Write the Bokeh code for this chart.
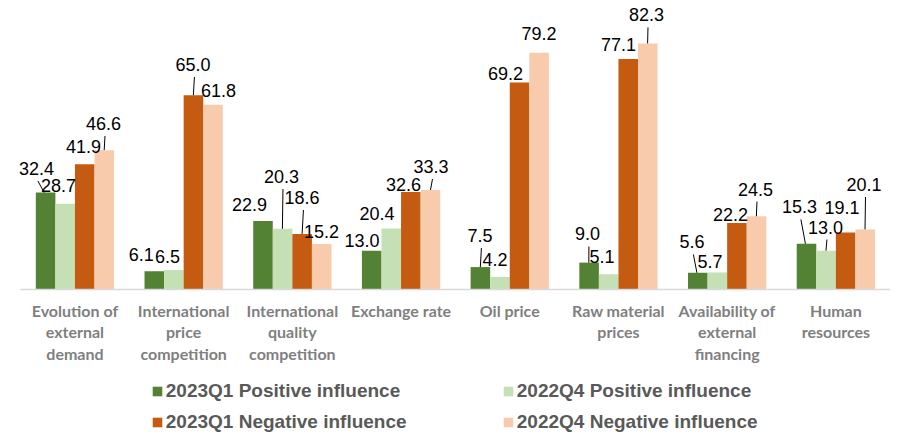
from bokeh.plotting import figure
from bokeh.models import Range1d, Legend, LegendItem, ColumnDataSource
from bokeh.embed import file_html
from bokeh.resources import INLINE
from bokeh.core.properties import value

# ---------------- data ----------------
categories = [
    "Evolution of\nexternal\ndemand",
    "International\nprice\ncompetition",
    "International\nquality\ncompetition",
    "Exchange rate",
    "Oil price",
    "Raw material\nprices",
    "Availability of\nexternal\nfinancing",
    "Human\nresources",
]
series_names = [
    "2023Q1 Positive influence",
    "2022Q4 Positive influence",
    "2023Q1 Negative influence",
    "2022Q4 Negative influence",
]
pos_2023q1 = [32.4, 6.1, 22.9, 13.0, 7.5, 9.0, 5.6, 15.3]
pos_2022q4 = [28.7, 6.5, 20.3, 20.4, 4.2, 5.1, 5.7, 13.0]
neg_2023q1 = [41.9, 65.0, 18.6, 32.6, 69.2, 77.1, 22.2, 19.1]
neg_2022q4 = [46.6, 61.8, 15.2, 33.3, 79.2, 82.3, 24.5, 20.1]
series_values = [pos_2023q1, pos_2022q4, neg_2023q1, neg_2022q4]

# ---------------- styles ----------------
colors = ["#548235", "#C5E0B4", "#C55A11", "#F8CBAD"]
bar_offsets = [-0.27, -0.09, 0.09, 0.27]
bar_width = 0.18

# label placement (screen px): dx = label centre - bar centre, dy = bar top - label centre
label_dx = [
    [-9.2, -13.0, -13.6, -9.8, -0.5, -1.7, -5.9, -7.1],
    [-6.7, -6.4, -1.1, -14.3, -5.0, -6.7, -7.4, -0.6],
    [-1.3, -0.5, -0.2, -7.4, -14.1, -9.8, -6.5, -3.7],
    [-0.8, 5.5, -0.2, 0.6, 0.0, -1.3, -1.0, -1.2],
]
label_dy = [
    [24.1, 16.8, 16.5, 10.1, 31.6, 28.6, 30.8, 36.8],
    [18.2, 13.6, 52.3, 15.5, 17.9, 17.3, 10.5, 23.6],
    [17.7, 30.6, 36.4, 7.5, 8.6, 14.5, 9.1, 24.4],
    [26.7, 14.2, 12.6, 23.4, 18.7, 28.5, 27.2, 44.9],
]
leader = [
    [1, 0, 0, 0, 1, 1, 1, 1],
    [0, 0, 1, 0, 0, 0, 0, 1],
    [0, 1, 1, 0, 0, 0, 0, 0],
    [1, 0, 0, 1, 0, 1, 1, 1],
]

# ---------------- geometry ----------------
W, H = 895, 436
CAT_PX = 108.7          # pixels per category
LEFT_PX = 20.1          # left edge of first category (figure px)
BASE_PX = 289.0         # baseline (figure px from top)
PX_PER_UNIT = 2.99

x_start = -LEFT_PX / CAT_PX
x_end = (W - LEFT_PX) / CAT_PX
y_end = BASE_PX / PX_PER_UNIT
y_start = -(H - BASE_PX) / PX_PER_UNIT

p = figure(width=W, height=H, title=None, toolbar_location=None,
           output_backend="svg", x_axis_location=None, y_axis_location=None,
           x_range=Range1d(x_start, x_end), y_range=Range1d(y_start, y_end),
           min_border=0, outline_line_color=None, tools="")
p.background_fill_color = "white"
p.border_fill_color = "white"
p.xgrid.grid_line_color = None
p.ygrid.grid_line_color = None

renderers = []
lab_x, lab_y, lab_t = [], [], []
ld_x0, ld_y0, ld_x1, ld_y1 = [], [], [], []
n = len(categories)
for s, vals in enumerate(series_values):
    xs = [i + 0.5 + bar_offsets[s] for i in range(n)]
    src = ColumnDataSource(dict(x=xs, top=vals))
    r = p.vbar(x="x", top="top", bottom=0, width=bar_width, source=src,
               fill_color=colors[s], line_color=None)
    renderers.append(r)
    for i, v in enumerate(vals):
        lx = xs[i] + label_dx[s][i] / CAT_PX
        ly = v + label_dy[s][i] / PX_PER_UNIT
        lab_x.append(lx)
        lab_y.append(ly)
        lab_t.append(f"{v:.1f}")
        if leader[s][i]:
            ld_x0.append(lx + 1.5 / CAT_PX)
            ld_y0.append(ly - 12.5 / PX_PER_UNIT)
            ld_x1.append(xs[i] + 0.15 * label_dx[s][i] / CAT_PX)
            ld_y1.append(v)

# baseline
p.segment(x0=[0], y0=[0], x1=[n], y1=[0], line_color="#D9D9D9", line_width=1.5)

# leader lines
p.segment(x0=ld_x0, y0=ld_y0, x1=ld_x1, y1=ld_y1, line_color="black", line_width=1)

# data labels
p.text(x=lab_x, y=lab_y, text=lab_t, text_align="center", text_baseline="middle",
       text_font=value("Liberation Sans"), text_font_size="18px", text_color="#000000")

# category labels
cat_y = -(300 - BASE_PX) / PX_PER_UNIT
p.text(x=[i + 0.5 for i in range(n)], y=[cat_y] * n, text=categories,
       text_align="center", text_baseline="top", text_line_height=1.15,
       text_font=value("Lato"), text_font_style="bold", text_font_size="16px",
       text_color="#7F7F7F")

# legends (two columns)
def make_legend(idx, xloc):
    lg = Legend(items=[LegendItem(label=series_names[k], renderers=[renderers[k]]) for k in idx],
                location=(xloc, 3), orientation="vertical",
                glyph_width=12, glyph_height=12, label_standoff=3, spacing=9,
                padding=0, margin=0, border_line_color=None, background_fill_alpha=0,
                label_text_font="Liberation Sans", label_text_font_style="bold",
                label_text_font_size="19px", label_text_color="#595959",
                label_height=20)
    p.add_layout(lg, "center")

make_legend([0, 2], 150.8)
make_legend([1, 3], 501.8)

open("out.html", "w").write(file_html(p, INLINE))
